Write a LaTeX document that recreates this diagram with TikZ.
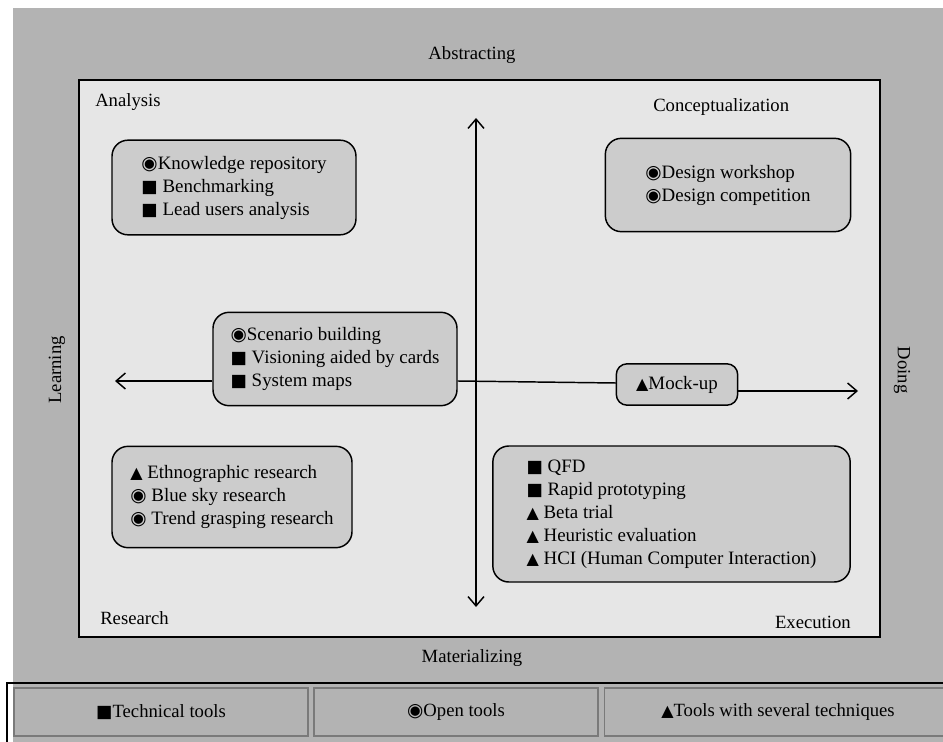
\documentclass[tikz,border=0pt]{standalone}
\usepackage{fontspec}
\setmainfont{Liberation Serif}
\newfontfamily\symfont{DejaVu Sans}
\usetikzlibrary{arrows.meta}
\definecolor{outergray}{HTML}{B3B3B3}
\definecolor{panelgray}{HTML}{E6E6E6}
\definecolor{boxgray}{HTML}{CCCCCC}
\definecolor{cellline}{HTML}{7A7A7A}
\newcommand{\bsq}{{\symfont\fontsize{13}{10}\selectfont ■}}
\newcommand{\bci}{{\symfont\fontsize{14}{10}\selectfont ◉}}
\newcommand{\btr}{{\symfont\fontsize{12}{10}\selectfont ▲}}
\tikzset{
  txt/.style={font=\fontsize{14}{17.25}\selectfont, inner sep=0pt},
  toolbox/.style={draw=black, line width=1.1pt, fill=boxgray, rounded corners=12pt,
    align=left, font=\fontsize{14.2}{17.25}\selectfont, inner sep=0pt},
  cell/.style={draw=cellline, line width=0.8pt, fill=outergray, inner sep=0pt,
    font=\fontsize{14}{17}\selectfont},
  arr/.style={line width=1.1pt, -{Straight Barb[length=7pt,width=12pt,line width=1.1pt]}},
  darr/.style={line width=1.1pt, {Straight Barb[length=7pt,width=12pt,line width=1.1pt]}-{Straight Barb[length=7pt,width=12pt,line width=1.1pt]}}
}
\begin{document}
\begin{tikzpicture}[x=0.75pt,y=-0.75pt]
\useasboundingbox (0,0) rectangle (943,742);
% backgrounds
\fill[white] (0,0) rectangle (943,742);
\fill[outergray] (13,8) rectangle (943,742);
\draw[line width=1.6pt, fill=panelgray] (79,80) rectangle (880,637);
% axis labels
\node[txt] (abs) at (472,55) {Abstracting};
\node[txt] (mat) at (472,658) {Materializing};
\node[txt, rotate=90] (learn) at (57,370) {Learning};
\node[txt, rotate=-90] (doing) at (902,370) {Doing};
% corner labels
\node[txt, anchor=west] (ana) at (95,102) {Analysis};
\node[txt, anchor=west] (con) at (653,107) {Conceptualization};
\node[txt, anchor=west] (res) at (100,618) {Research};
\node[txt, anchor=east] (exe) at (851,622) {Execution};
% vertical axis
\coordinate (T) at (476,118);
\coordinate (B) at (476,607);
\draw[darr] (T) -- (B);
% boxes
\node[toolbox, minimum width=183pt, minimum height=71pt] (know) at (234,187.5)
  {\bci Knowledge repository\\ \bsq\ Benchmarking\\ \bsq\ Lead users analysis};
\node[toolbox, minimum width=184pt, minimum height=70pt] (des) at (728,185)
  {\bci Design workshop\\ \bci Design competition};
\node[toolbox, minimum width=183pt, minimum height=70pt] (scen) at (335,359)
  {\bci Scenario building\\ \bsq\ Visioning aided by cards\\ \bsq\ System maps};
\node[toolbox, minimum width=91pt, minimum height=31pt, rounded corners=8pt] (mock) at (677,384.5)
  {\btr Mock-up};
\node[toolbox, minimum width=180pt, minimum height=76pt] (eth) at (232,497)
  {\btr\ Ethnographic research\\ \bci\ Blue sky research\\ \bci\ Trend grasping research};
\node[toolbox, minimum width=268pt, minimum height=102pt] (exb) at (671.5,514)
  {\bsq\ QFD\\ \bsq\ Rapid prototyping\\ \btr\ Beta trial\\ \btr\ Heuristic evaluation\\ \btr\ HCI (Human Computer Interaction)};
% horizontal axis
\coordinate (L) at (115,381);
\coordinate (M) at (616,383);
\coordinate (R) at (858,391);
\draw[arr] (scen.west |- L) -- (L);
\draw[line width=1.1pt] (scen.east |- L) -- (M);
\draw[arr] (mock.east |- R) -- (R);
% legend
\draw[black, line width=1pt] (7,683) rectangle (960,760);
\node[cell, minimum width=220.5pt, minimum height=36pt] (c1) at (161,712) {\bsq Technical tools};
\node[cell, minimum width=213pt, minimum height=36pt] (c2) at (456,712) {\bci Open tools};
\node[cell, minimum width=260pt, minimum height=36pt] (c3) at (778,712) {\btr Tools with several techniques};
\end{tikzpicture}
\end{document}
